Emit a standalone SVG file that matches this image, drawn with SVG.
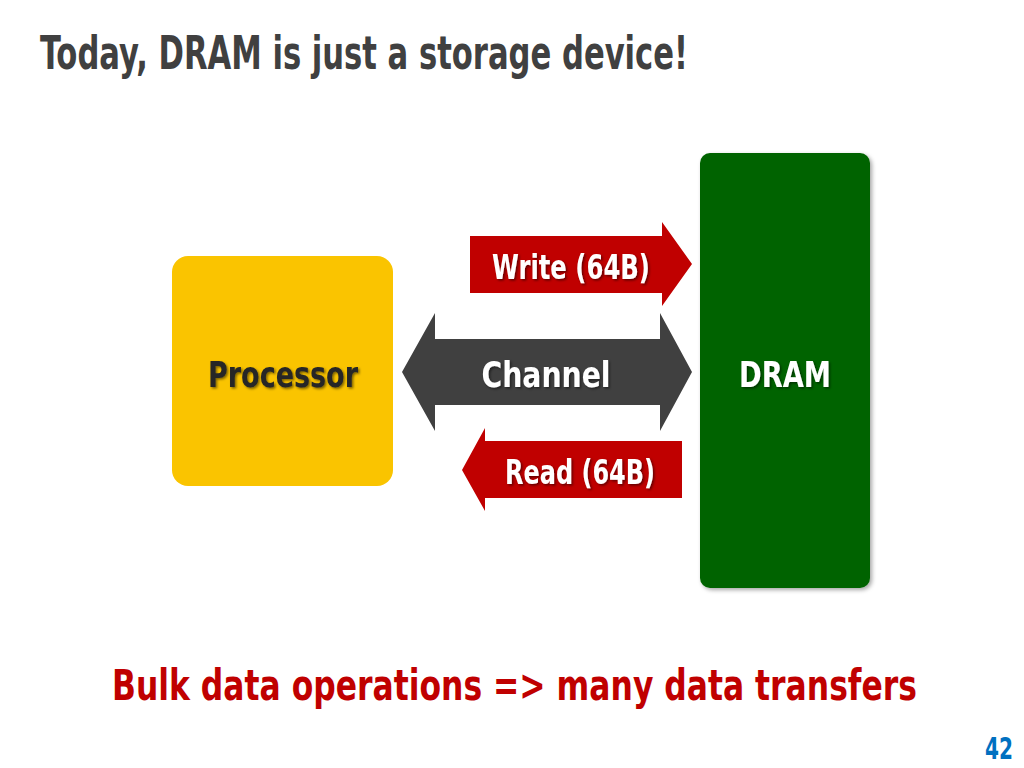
<svg xmlns="http://www.w3.org/2000/svg" width="1024" height="768" viewBox="0 0 1024 768">
<style>
.t{font-family:"Liberation Sans Narrow","DejaVu Sans Condensed","Liberation Sans",sans-serif;font-weight:bold}
.lbl{fill:#fff;font-size:36px;text-anchor:middle;filter:url(#ts)}
</style>
<defs>
<filter id="ts" x="-10%" y="-20%" width="130%" height="150%">
<feDropShadow dx="1.5" dy="1.5" stdDeviation="1" flood-color="#000" flood-opacity="0.5"/>
</filter>
<filter id="bs" x="-10%" y="-10%" width="130%" height="130%">
<feDropShadow dx="2" dy="2" stdDeviation="2" flood-color="#000" flood-opacity="0.35"/>
</filter>
</defs>
<rect width="1024" height="768" fill="#fff"/>
<text class="t" x="40" y="69" font-size="46" fill="#404040" textLength="648" lengthAdjust="spacingAndGlyphs">Today, DRAM is just a storage device!</text>
<g id="processor">
<rect x="172" y="256" width="221" height="230" rx="16" fill="#FAC400"/>
<text class="t lbl" x="283" y="387" style="fill:#262626" textLength="150" lengthAdjust="spacingAndGlyphs">Processor</text>
</g>
<g id="dram">
<rect x="700" y="153" width="170" height="435" rx="10" fill="#006400" filter="url(#bs)"/>
<text class="t lbl" x="785" y="387" textLength="92" lengthAdjust="spacingAndGlyphs">DRAM</text>
</g>
<g id="connectors">
<g id="write">
<polygon points="470,236 662,236 662,222 692,264 662,306 662,293 470,293" fill="#C00000"/>
<text class="t lbl" x="571" y="279" style="font-size:34px" textLength="158" lengthAdjust="spacingAndGlyphs">Write (64B)</text>
</g>
<g id="channel">
<polygon points="402,372 435,313 435,339 660,339 660,313 692,372 660,431 660,405 435,405 435,431" fill="#404040"/>
<text class="t lbl" x="546" y="387" textLength="129" lengthAdjust="spacingAndGlyphs">Channel</text>
</g>
<g id="read">
<polygon points="462,470 485,428 485,441 682,441 682,498 485,498 485,511" fill="#C00000"/>
<text class="t lbl" x="580" y="484" style="font-size:34px" textLength="150" lengthAdjust="spacingAndGlyphs">Read (64B)</text>
</g>
</g>
<text class="t" x="112" y="700" font-size="43" fill="#C00000" textLength="805" lengthAdjust="spacingAndGlyphs">Bulk data operations =&gt; many data transfers</text>
<text class="t" x="985" y="759" font-size="30" fill="#0070C0" textLength="28" lengthAdjust="spacingAndGlyphs">42</text>
</svg>
